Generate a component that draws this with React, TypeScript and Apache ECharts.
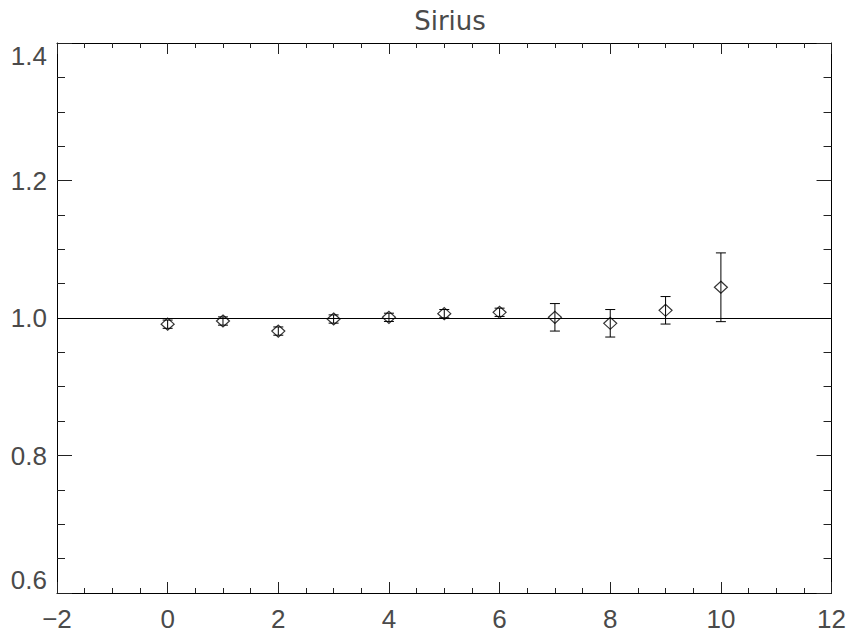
import React, { useEffect, useRef } from "react";
import * as echarts from "echarts";

const TITLE = "Sirius";
const xValues = [0, 1, 2, 3, 4, 5, 6, 7, 8, 9, 10];
const yValues = [0.991, 0.9956, 0.981, 0.9985, 1.001, 1.0063, 1.0083, 1.001, 0.9923, 1.0112, 1.0447];
const yErrors = [0.006, 0.006, 0.006, 0.006, 0.006, 0.006, 0.006, 0.02, 0.02, 0.02, 0.05];
const X_MIN = -2;
const X_MAX = 12;
const X_STEP = 2;
const Y_MIN = 0.6;
const Y_MAX = 1.4;
const Y_STEP = 0.2;
const REF_LINE = 1.0;

const TEXT_COLOR = "#4a4a4a";
const LABEL_FONT = "'Liberation Sans', Arial, sans-serif";

export default function App() {
  const ref = useRef<HTMLDivElement>(null);
  useEffect(() => {
    document.body.style.margin = "0";
    if (!ref.current) return;
    const chart = echarts.init(ref.current, undefined, { renderer: "svg" });

    const pts = xValues.map((x, i) => [x, yValues[i]]);
    const errs = xValues.map((x, i) => [x, yValues[i] - yErrors[i], yValues[i] + yErrors[i]]);

    const axisLineStyle = { show: true, onZero: false, lineStyle: { color: "#000", width: 1 } };

    const xBase = (position: string, showLabel: boolean) => ({
      type: "value",
      position,
      min: X_MIN,
      max: X_MAX,
      interval: X_STEP,
      axisLine: axisLineStyle,
      axisTick: { show: true, inside: true, length: 11, lineStyle: { color: "#222", width: 1 } },
      minorTick: { show: true, splitNumber: 4, length: 5, lineStyle: { color: "#222", width: 1 } },
      splitLine: { show: false },
      minorSplitLine: { show: false },
      axisLabel: {
        show: showLabel,
        color: TEXT_COLOR,
        fontFamily: LABEL_FONT,
        fontSize: 26,
        margin: 13,
        formatter: (v: number) => (v < 0 ? "\u2212" + Math.abs(v) : String(v)),
      },
    });

    const yBase = (position: string, showLabel: boolean) => ({
      type: "value",
      position,
      min: Y_MIN,
      max: Y_MAX,
      interval: Y_STEP,
      axisLine: axisLineStyle,
      axisTick: { show: true, inside: true, length: 15, lineStyle: { color: "#222", width: 1 } },
      minorTick: { show: true, splitNumber: 4, length: 8, lineStyle: { color: "#222", width: 1 } },
      splitLine: { show: false },
      minorSplitLine: { show: false },
      axisLabel: {
        show: showLabel,
        color: TEXT_COLOR,
        fontFamily: LABEL_FONT,
        fontSize: 26,
        margin: 10,
        verticalAlignMaxLabel: "top",
        verticalAlignMinLabel: "bottom",
        formatter: (v: number) => v.toFixed(1),
      },
    });

    chart.setOption({
      animation: false,
      backgroundColor: "#fff",
      title: {
        text: TITLE,
        left: 445,
        textAlign: "center",
        top: 3,
        textStyle: {
          color: TEXT_COLOR,
          fontFamily: "'DejaVu Sans', sans-serif",
          fontWeight: "normal",
          fontSize: 26,
        },
      },
      grid: { left: 57, right: 16, top: 43, bottom: 46, containLabel: false },
      xAxis: [xBase("bottom", true), xBase("top", false)],
      yAxis: [yBase("left", true), yBase("right", false)],
      series: [
        {
          type: "custom",
          xAxisIndex: 0,
          yAxisIndex: 0,
          data: errs,
          renderItem: (params: any, api: any) => {
            const x = api.value(0);
            const lo = api.coord([x, api.value(1)]);
            const hi = api.coord([x, api.value(2)]);
            const w = 5;
            const style = { stroke: "#000", lineWidth: 1 };
            return {
              type: "group",
              children: [
                { type: "line", shape: { x1: lo[0], y1: lo[1], x2: hi[0], y2: hi[1] }, style },
                { type: "line", shape: { x1: lo[0] - w, y1: lo[1], x2: lo[0] + w, y2: lo[1] }, style },
                { type: "line", shape: { x1: hi[0] - w, y1: hi[1], x2: hi[0] + w, y2: hi[1] }, style },
              ],
            };
          },
          z: 3,
        },
        {
          type: "scatter",
          xAxisIndex: 0,
          yAxisIndex: 0,
          data: pts,
          symbol: "diamond",
          symbolSize: [13, 12],
          itemStyle: { color: "rgba(0,0,0,0)", borderColor: "#000", borderWidth: 1.2 },
          z: 4,
          markLine: {
            silent: true,
            symbol: ["none", "none"],
            label: { show: false },
            lineStyle: { color: "#000", width: 1, type: "solid" },
            data: [{ yAxis: REF_LINE }],
          },
        },
      ],
    });
    return () => chart.dispose();
  }, []);
  return <div ref={ref} style={{ width: 849, height: 639 }} />;
}
